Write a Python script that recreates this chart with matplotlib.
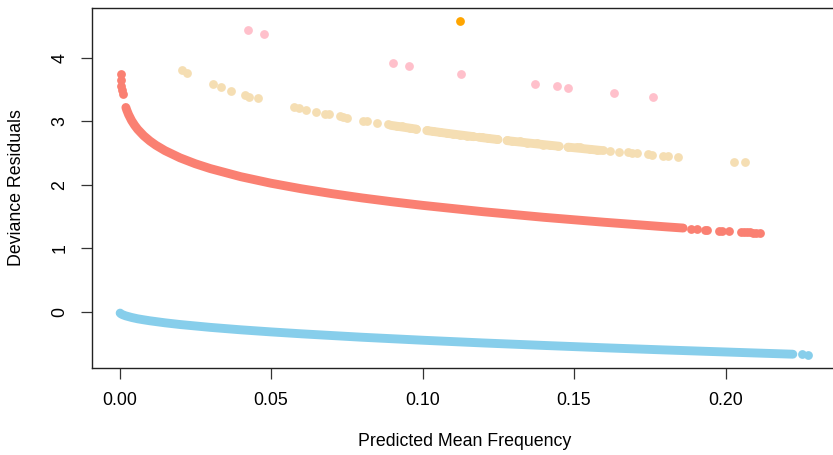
import numpy as np
import matplotlib.pyplot as plt

plt.rcParams['font.family'] = ['Liberation Sans', 'DejaVu Sans']

# deviance residuals against predicted mean, one group per observed count

# count 0 (dense band + two stray points at the right end)
mu_zero = [0.0002, 0.0005, 0.001, 0.002, 0.004, 0.006, 0.008, 0.010, 0.015,
           0.020, 0.030, 0.040, 0.050, 0.060, 0.080, 0.100, 0.120, 0.140,
           0.160, 0.180, 0.200, 0.210, 0.2222]
res_zero = [-0.020, -0.032, -0.045, -0.063, -0.089, -0.110, -0.126, -0.141,
            -0.173, -0.200, -0.245, -0.283, -0.316, -0.346, -0.400, -0.447,
            -0.490, -0.529, -0.566, -0.600, -0.632, -0.648, -0.667]
mu_zero_pts = [0.2253, 0.2271]
res_zero_pts = [-0.671, -0.674]

# count 1
mu_one = [0.0021, 0.0024, 0.003, 0.004, 0.005, 0.006, 0.008, 0.010, 0.012,
          0.015, 0.020, 0.025, 0.030, 0.040, 0.050, 0.060, 0.070, 0.080,
          0.090, 0.100, 0.120, 0.140, 0.160, 0.180, 0.186]
res_one = [3.215, 3.173, 3.102, 3.008, 2.934, 2.871, 2.770, 2.689, 2.621,
           2.536, 2.422, 2.330, 2.253, 2.126, 2.023, 1.936, 1.860, 1.792,
           1.731, 1.675, 1.575, 1.487, 1.409, 1.338, 1.318]
mu_one_pts = [0.00034, 0.00047, 0.00065, 0.00083, 0.00103,
              0.1885, 0.1905, 0.1932, 0.1938, 0.1979, 0.1987, 0.2012,
              0.2050, 0.2060, 0.2070, 0.2080, 0.2090, 0.2100, 0.2114]
res_one_pts = [3.74, 3.65, 3.56, 3.49, 3.43,
               1.309, 1.303, 1.294, 1.292, 1.279, 1.276, 1.269,
               1.257, 1.254, 1.251, 1.248, 1.245, 1.242, 1.237]

# count 2: single dots ...
mu_two = [0.0205, 0.0222, 0.0310, 0.0334, 0.0367, 0.0414, 0.0428, 0.0456,
          0.0576, 0.0593, 0.0616, 0.0649, 0.0679, 0.0692, 0.0728, 0.0739,
          0.0750, 0.0805, 0.0816, 0.0849, 0.0887, 0.0915, 0.0931, 0.0959,
          0.0979, 0.1014, 0.1036, 0.1058, 0.1080, 0.1102, 0.1124, 0.1146,
          0.1162, 0.1195, 0.1217, 0.1245, 0.1278, 0.1294, 0.1322, 0.1344,
          0.1377, 0.1399, 0.1421, 0.1448, 0.1481, 0.1509, 0.1520, 0.1553,
          0.1575, 0.1597, 0.1617, 0.1648, 0.1679, 0.1690, 0.1707, 0.1743,
          0.1758, 0.1793, 0.1811, 0.1844, 0.2029, 0.2063]
res_two = [3.80, 3.75, 3.58, 3.53, 3.48, 3.41, 3.38, 3.36,
           3.22, 3.20, 3.17, 3.14, 3.12, 3.11, 3.08, 3.07,
           3.05, 3.01, 3.00, 2.97, 2.95, 2.93, 2.92, 2.89,
           2.87, 2.86, 2.85, 2.83, 2.82, 2.80, 2.78, 2.77,
           2.76, 2.75, 2.74, 2.72, 2.70, 2.69, 2.68, 2.66,
           2.65, 2.63, 2.62, 2.61, 2.60, 2.59, 2.59, 2.56,
           2.55, 2.54, 2.53, 2.51, 2.51, 2.50, 2.50, 2.48,
           2.47, 2.45, 2.45, 2.44, 2.35, 2.35]
# ... and the stretches where the dots run together (NaN splits the runs)
mu_two_runs = [0.0895, 0.0979, np.nan,
               0.1014, 0.1090, 0.1170, np.nan,
               0.1186, 0.1249, np.nan,
               0.1279, 0.1365, 0.1451, np.nan,
               0.1480, 0.1589]
res_two_runs = [2.934, 2.875, np.nan,
                2.851, 2.803, 2.755, np.nan,
                2.746, 2.710, np.nan,
                2.693, 2.648, 2.605, np.nan,
                2.591, 2.539]

# count 3
mu_three = [0.0425, 0.0477, 0.0903, 0.0956, 0.1126, 0.1371, 0.1443, 0.1480,
            0.1633, 0.1760]
res_three = [4.44, 4.37, 3.91, 3.86, 3.74, 3.58, 3.55, 3.52, 3.44, 3.38]

# count 4
mu_four = [0.1124]
res_four = [4.57]

x_ticks = [0.00, 0.05, 0.10, 0.15, 0.20]
x_tick_labels = ['0.00', '0.05', '0.10', '0.15', '0.20']
y_ticks = [0, 1, 2, 3, 4]

fig = plt.figure(figsize=(8.33, 4.55), dpi=100)
ax = fig.add_axes([92 / 833, 87 / 455, 746 / 833, 360 / 455])

dot = 40      # scatter marker area (pt^2)
band = 6.4    # line width matching the dot diameter
line_kw = dict(lw=band, solid_capstyle='round', solid_joinstyle='round')

ax.plot(mu_zero, res_zero, color='skyblue', **line_kw)
ax.scatter(mu_zero_pts, res_zero_pts, s=dot, color='skyblue', linewidths=0)

ax.plot(mu_one, res_one, color='salmon', **line_kw)
ax.scatter(mu_one_pts, res_one_pts, s=dot, color='salmon', linewidths=0)

ax.plot(mu_two_runs, res_two_runs, color='wheat', **line_kw)
ax.scatter(mu_two, res_two, s=dot, color='wheat', linewidths=0)
ax.scatter(mu_three, res_three, s=dot, color='pink', linewidths=0)
ax.scatter(mu_four, res_four, s=dot, color='orange', linewidths=0)

ax.set_xlim(-0.00908, 0.2371)
ax.set_ylim(-0.884, 4.78)

ax.set_xticks(x_ticks)
ax.set_xticklabels(x_tick_labels)
ax.set_yticks(y_ticks)
ax.set_yticklabels([str(v) for v in y_ticks], rotation=90, va='center')
ax.tick_params(length=8, width=0.9, color='#333333', labelsize=12.8, pad=9)

for sp in ax.spines.values():
    sp.set_linewidth(1.0)
    sp.set_color('#222222')
# the frame runs off the right edge of the canvas
ax.spines['right'].set_visible(False)

ax.set_xlabel('Predicted Mean Frequency', fontsize=12.8, va='center')
ax.xaxis.set_label_coords(0.5, -0.205)
ax.set_ylabel('Deviance Residuals', fontsize=12.8, va='center')
ax.yaxis.set_label_coords(-0.101, 0.5)

fig.savefig('out.png', dpi=100)
